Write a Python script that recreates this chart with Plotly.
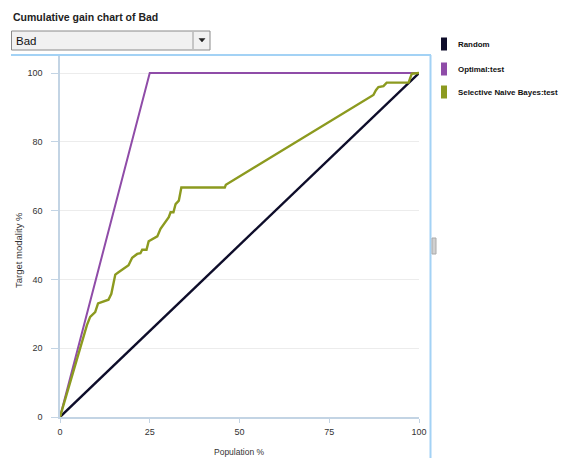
import plotly.graph_objects as go

# ---- data ----
series_names = ["Random", "Optimal:test", "Selective Naive Bayes:test"]
series_colors = ["#0e0d2a", "#8f4ca8", "#8c9a1f"]

random_x = [0, 100]
random_y = [0, 100]

optimal_x = [0, 25, 100]
optimal_y = [0, 100, 100]

snb_x = [0, 6.8, 7.5, 8.4, 9.0, 9.8, 10.6, 13.5, 14.3, 15.4, 16.3, 19.1, 20.1, 21.5,
         22.4, 22.9, 24.1, 24.7, 27.1, 28.0, 30.3, 30.8, 31.6, 32.2, 33.1, 33.8,
         45.9, 46.2, 87.3, 88.0, 88.7, 90.1, 91.0, 97.1, 98.0, 100]
snb_y = [0, 24.7, 26.7, 29.1, 29.8, 30.5, 33.0, 34.1, 35.8, 41.4, 42.1, 44.1, 46.3, 47.4,
         47.6, 48.6, 48.6, 51.1, 52.5, 54.7, 58.1, 59.5, 59.5, 61.9, 62.9, 66.7,
         66.7, 67.5, 93.6, 95.0, 95.9, 96.2, 97.2, 97.2, 99.8, 100]

x_ticks = [0, 25, 50, 75, 100]
y_ticks = [0, 20, 40, 60, 80, 100]

title_text = "Cumulative gain chart of Bad"
dropdown_text = "Bad"
x_title = "Population %"
y_title = "Target modality %"

FONT = "Liberation Sans, Arial, sans-serif"

# page has an 8px body margin: the figure is drawn starting at (8, 8)
OFF = 8
W, H = 569 - OFF, 458 - OFF
# plot area in reference page pixels
L, R, T, B = 60, 419, 55, 417


def px(xp):
    return (xp - L) / (R - L)


def py(yp):
    return (B - yp) / (B - T)


fig = go.Figure()
fig.add_trace(go.Scatter(x=random_x, y=random_y, mode="lines", name=series_names[0],
                         line=dict(color=series_colors[0], width=2.4)))
fig.add_trace(go.Scatter(x=optimal_x, y=optimal_y, mode="lines", name=series_names[1],
                         line=dict(color=series_colors[1], width=2)))
fig.add_trace(go.Scatter(x=snb_x, y=snb_y, mode="lines", name=series_names[2],
                         line=dict(color=series_colors[2], width=2.4)))

axis_col = "#c3d4e4"
fig.update_xaxes(range=[0, 100], tickvals=x_ticks, showgrid=False, zeroline=False,
                 automargin=False,
                 showline=True, linecolor=axis_col, linewidth=1.5,
                 ticks="outside", ticklen=4, tickcolor=axis_col, ticklabelstandoff=1,
                 tickfont=dict(family=FONT, size=9, color="#333"))
fig.update_yaxes(range=[0, 100 * (B - T) / (B - 73)], tickvals=y_ticks, showgrid=True,
                 automargin=False,
                 gridcolor="#ececec", gridwidth=1, zeroline=False,
                 showline=True, linecolor=axis_col, linewidth=1.5,
                 ticks="outside", ticklen=7, tickcolor=axis_col, ticklabelstandoff=7,
                 tickfont=dict(family=FONT, size=9, color="#333"))

shapes = []
annotations = []

# panel border
border_col = "#a3d2f5"
shapes.append(dict(type="line", xref="paper", yref="paper", x0=px(11), x1=px(431), y0=py(55), y1=py(55),
                   line=dict(color=border_col, width=2)))
shapes.append(dict(type="line", xref="paper", yref="paper", x0=px(430.5), x1=px(430.5), y0=py(55), y1=py(460),
                   line=dict(color=border_col, width=2)))
# splitter handle
shapes.append(dict(type="rect", xref="paper", yref="paper", x0=px(432), x1=px(436), y0=py(238), y1=py(254),
                   line=dict(color="#aaaaaa", width=1), fillcolor="#d0d0d0"))

# dropdown
shapes.append(dict(type="rect", xref="paper", yref="paper", x0=px(11.5), x1=px(210), y0=py(31), y1=py(50),
                   line=dict(color="#8a8a8a", width=1), fillcolor="#f1f1f1"))
shapes.append(dict(type="line", xref="paper", yref="paper", x0=px(193), x1=px(193), y0=py(32), y1=py(49),
                   line=dict(color="#9a9a9a", width=1)))
shapes.append(dict(type="path", xref="paper", yref="paper",
                   path=f"M {px(199)} {py(38.5)} L {px(205)} {py(38.5)} L {px(202)} {py(42)} Z",
                   line=dict(color="#222", width=0.5), fillcolor="#222"))
annotations.append(dict(text=dropdown_text, xref="paper", yref="paper", x=px(14), y=py(41),
                        xanchor="left", yanchor="middle", showarrow=False,
                        font=dict(family=FONT, size=11.5, color="#111")))

# title
annotations.append(dict(text=f"<b>{title_text}</b>", xref="paper", yref="paper", x=px(11), y=py(17),
                        xanchor="left", yanchor="middle", showarrow=False,
                        font=dict(family=FONT, size=10.5, color="#222")))

# axis titles
annotations.append(dict(text=y_title, xref="paper", yref="paper", x=px(18), y=py(250),
                        xanchor="center", yanchor="middle", showarrow=False, textangle=-90,
                        font=dict(family=FONT, size=9.5, color="#333")))
annotations.append(dict(text=x_title, xref="paper", yref="paper", x=px(239), y=py(452),
                        xanchor="center", yanchor="middle", showarrow=False,
                        font=dict(family=FONT, size=8.5, color="#333")))

# legend
legend_y = [44, 69, 92]
for name, col, yc in zip(series_names, series_colors, legend_y):
    shapes.append(dict(type="rect", xref="paper", yref="paper", x0=px(441), x1=px(447),
                       y0=py(yc - 6.5), y1=py(yc + 6.5), line=dict(width=0), fillcolor=col))
    annotations.append(dict(text=f"<b>{name}</b>", xref="paper", yref="paper", x=px(456), y=py(yc),
                            xanchor="left", yanchor="middle", showarrow=False,
                            font=dict(family=FONT, size=7.9, color="#111")))

fig.update_layout(width=W, height=H,
                  margin=dict(l=L - OFF, r=569 - R, t=T - OFF, b=458 - B),
                  plot_bgcolor="white", paper_bgcolor="white", showlegend=False,
                  shapes=shapes, annotations=annotations)

fig.write_html("out.html")
